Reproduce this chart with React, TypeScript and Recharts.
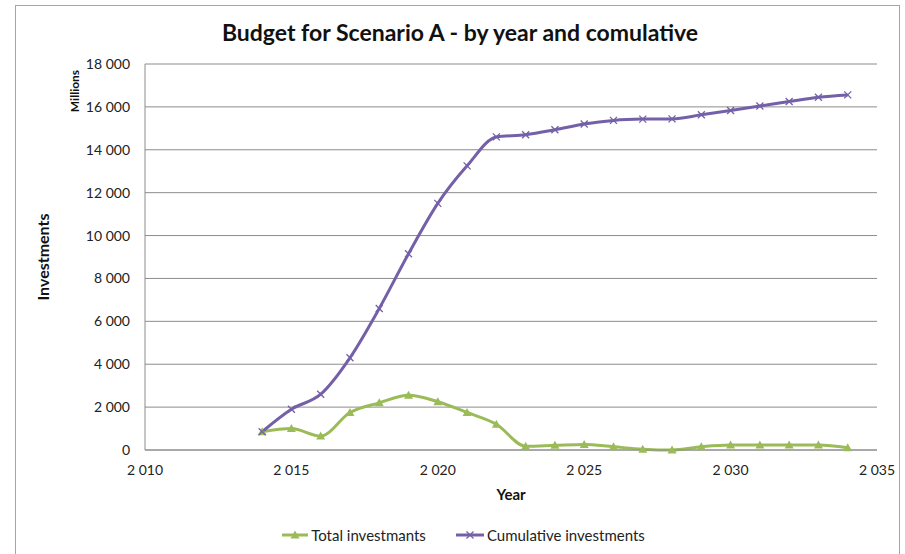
import React from 'react';
import { LineChart, Line, XAxis, YAxis, CartesianGrid, Legend, Label } from 'recharts';

const years = [2014, 2015, 2016, 2017, 2018, 2019, 2020, 2021, 2022, 2023, 2024, 2025, 2026, 2027, 2028, 2029, 2030, 2031, 2032, 2033, 2034];
const totalInvestments = [850, 1000, 650, 1750, 2200, 2550, 2250, 1750, 1200, 180, 220, 260, 150, 40, 0, 150, 230, 230, 230, 230, 110];
const cumulativeInvestments = [850, 1900, 2600, 4300, 6600, 9150, 11500, 13250, 14600, 14700, 14930, 15200, 15370, 15430, 15440, 15630, 15830, 16040, 16250, 16450, 16560];
const xTicks = [2010, 2015, 2020, 2025, 2030, 2035];
const yTicks = [0, 2000, 4000, 6000, 8000, 10000, 12000, 14000, 16000, 18000];

const seriesNames = ['Total investmants', 'Cumulative investments'];
const GREEN = '#9BBB59';
const PURPLE = '#7460A8';

const data = years.map((y, i) => ({
  year: y,
  total: totalInvestments[i],
  cumulative: cumulativeInvestments[i],
}));

const fmt = (v: number) => {
  const s = String(v);
  return s.length > 3 ? s.slice(0, -3) + ' ' + s.slice(-3) : s;
};

const TriangleDot = (props: any) => {
  const { cx, cy, index } = props;
  if (cx == null || cy == null) return <g key={`t${index}`} />;
  return (
    <path
      key={`t${index}`}
      d={`M${cx},${cy - 4.5} L${cx + 4.5},${cy + 3.5} L${cx - 4.5},${cy + 3.5} Z`}
      fill={GREEN}
    />
  );
};

const XDot = (props: any) => {
  const { cx, cy, index } = props;
  if (cx == null || cy == null) return <g key={`x${index}`} />;
  const r = 3.5;
  return (
    <g key={`x${index}`} stroke={PURPLE} strokeWidth={1.3}>
      <line x1={cx - r} y1={cy - r} x2={cx + r} y2={cy + r} />
      <line x1={cx - r} y1={cy + r} x2={cx + r} y2={cy - r} />
    </g>
  );
};

const renderLegend = () => (
  <div style={{ display: 'flex', justifyContent: 'center', alignItems: 'center', fontFamily: 'Lato', fontSize: 15, color: '#222' }}>
    <div style={{ display: 'flex', alignItems: 'center', marginRight: 30 }}>
      <svg width={26} height={12} style={{ marginRight: 3 }}>
        <line x1={0} y1={6} x2={26} y2={6} stroke={GREEN} strokeWidth={3} />
        <path d="M13,1.5 L17.5,9.5 L8.5,9.5 Z" fill={GREEN} />
      </svg>
      <span>{seriesNames[0]}</span>
    </div>
    <div style={{ display: 'flex', alignItems: 'center' }}>
      <svg width={28} height={12} style={{ marginRight: 3 }}>
        <line x1={0} y1={6} x2={28} y2={6} stroke={PURPLE} strokeWidth={3} />
        <g stroke={PURPLE} strokeWidth={1.3}>
          <line x1={10.5} y1={2.5} x2={17.5} y2={9.5} />
          <line x1={10.5} y1={9.5} x2={17.5} y2={2.5} />
        </g>
      </svg>
      <span>{seriesNames[1]}</span>
    </div>
  </div>
);

export default function App() {
  return (
    <div style={{ position: 'absolute', left: 0, top: 0, width: 905, height: 554, overflow: 'hidden', background: '#fff', fontFamily: 'Lato' }}>
      <div style={{ position: 'absolute', left: 15, top: 5, width: 885, height: 580, border: '1px solid #a6a6a6', boxSizing: 'border-box' }} />
      <div style={{ position: 'absolute', left: 0, top: 18, width: 920, textAlign: 'center', fontFamily: 'Lato', fontWeight: 'bold', fontSize: 23, color: '#111' }}>
        Budget for Scenario A - by year and comulative
      </div>
      <LineChart width={905} height={554} data={data} margin={{ top: 64, right: 28, left: 85, bottom: 74 }}>
        <CartesianGrid vertical={false} stroke="#8c8c8c" strokeWidth={1} />
        <XAxis
          dataKey="year"
          type="number"
          domain={[2010, 2035]}
          ticks={xTicks}
          tickFormatter={fmt}
          axisLine={{ stroke: '#8c8c8c' }}
          tickLine={false}
          tickMargin={9}
          height={30}
          tick={{ fill: '#222', fontSize: 14, fontFamily: 'Lato' }}
          interval={0}
        >
          <Label value="Year" position="bottom" offset={9} style={{ fill: '#111', fontSize: 15, fontWeight: 'bold', fontFamily: 'Lato' }} />
        </XAxis>
        <YAxis
          type="number"
          domain={[0, 18000]}
          ticks={yTicks}
          tickFormatter={fmt}
          axisLine={{ stroke: '#8c8c8c' }}
          tickLine={false}
          tickMargin={9}
          width={60}
          tick={{ fill: '#222', fontSize: 14, fontFamily: 'Lato' }}
          interval={0}
        >
          <Label
            content={(p: any) => {
              const vb = p.viewBox || {};
              const x = (vb.x ?? 85) - 43;
              const y = (vb.y ?? 64) + (vb.height ?? 386) / 2;
              return (
                <text x={x} y={y} transform={`rotate(-90 ${x} ${y})`} textAnchor="middle" dominantBaseline="central" style={{ fill: '#111', fontSize: 16, fontWeight: 'bold', fontFamily: 'Lato' }}>
                  Investments
                </text>
              );
            }}
          />
          <Label
            content={(p: any) => {
              const vb = p.viewBox || {};
              const x = (vb.x ?? 85) - 11;
              const y = (vb.y ?? 64) + 27;
              return (
                <text x={x} y={y} transform={`rotate(-90 ${x} ${y})`} textAnchor="middle" dominantBaseline="central" style={{ fill: '#111', fontSize: 12, fontWeight: 'bold', fontFamily: 'Lato' }}>
                  Millions
                </text>
              );
            }}
          />
        </YAxis>
        <Legend layout="horizontal" verticalAlign="middle" align="center" wrapperStyle={{ top: 526, left: 11, width: 905 }} content={renderLegend} />
        <Line type="monotone" dataKey="total" name={seriesNames[0]} stroke={GREEN} strokeWidth={3} dot={TriangleDot} activeDot={false} isAnimationActive={false} />
        <Line type="monotone" dataKey="cumulative" name={seriesNames[1]} stroke={PURPLE} strokeWidth={3} dot={XDot} activeDot={false} isAnimationActive={false} />
      </LineChart>
    </div>
  );
}
